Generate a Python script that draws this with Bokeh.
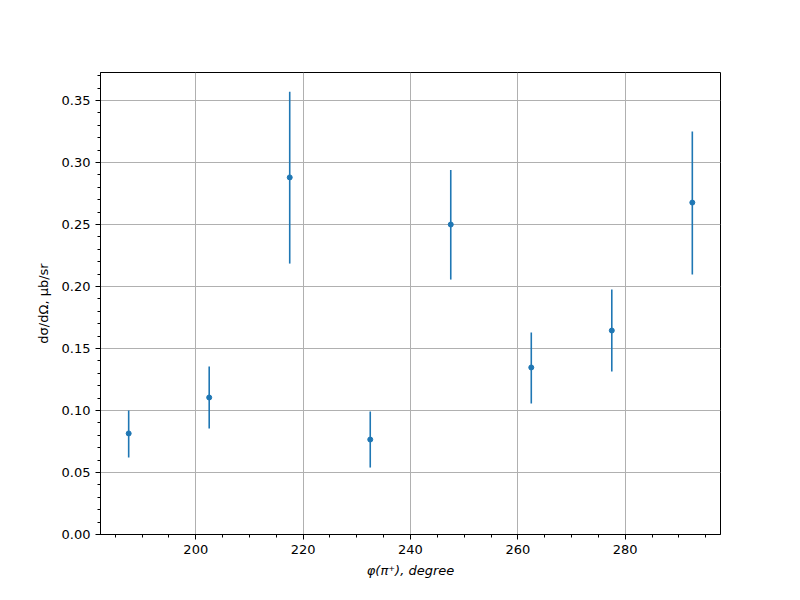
from bokeh.plotting import figure
from bokeh.models import FixedTicker, PrintfTickFormatter, Range1d, ColumnDataSource
from bokeh.embed import file_html
from bokeh.resources import INLINE

phi = [187.5, 202.5, 217.5, 232.5, 247.5, 262.5, 277.5, 292.5]
xsec = [0.0815, 0.1105, 0.288, 0.0766, 0.250, 0.1347, 0.1645, 0.2677]
err_low = [0.062, 0.0855, 0.2185, 0.054, 0.2056, 0.1056, 0.1315, 0.2097]
err_high = [0.100, 0.1355, 0.357, 0.0992, 0.294, 0.163, 0.1976, 0.325]

x_ticks = [200, 220, 240, 260, 280]
y_ticks = [0.0, 0.05, 0.10, 0.15, 0.20, 0.25, 0.30, 0.35]

src = ColumnDataSource(dict(x=phi, y=xsec, lo=err_low, hi=err_high))

p = figure(width=800, height=600, output_backend="svg", toolbar_location=None,
           x_range=Range1d(182.25, 297.75), y_range=Range1d(0, 0.3726),
           min_border_left=100, min_border_right=80, min_border_top=72, min_border_bottom=66)

p.outline_line_color = "black"
p.outline_line_width = 1
p.background_fill_color = "white"
p.border_fill_color = "white"

p.segment(x0="x", y0="lo", x1="x", y1="hi", source=src, line_color="#1f77b4", line_width=1.6)
p.scatter(x="x", y="y", source=src, size=5, fill_color="#1f77b4", line_color="#1f77b4")

p.xaxis.ticker = FixedTicker(ticks=x_ticks, minor_ticks=list(range(185, 300, 5)))
p.yaxis.ticker = FixedTicker(ticks=y_ticks, minor_ticks=[i / 100 for i in range(0, 38)])
p.yaxis.formatter = PrintfTickFormatter(format="%.2f")

for ax in (p.xaxis, p.yaxis):
    ax.major_tick_in = 0
    ax.major_tick_out = 5
    ax.minor_tick_in = 0
    ax.minor_tick_out = 3
    ax.major_label_text_font = "DejaVu Sans"
    ax.major_label_text_font_size = "13px"
    ax.major_label_text_color = "black"
    ax.axis_label_text_font = "DejaVu Sans"
    ax.axis_label_text_font_size = "13px"
    ax.axis_label_text_color = "black"
    ax.axis_line_color = "black"
    ax.major_tick_line_color = "black"
    ax.minor_tick_line_color = "black"

p.xaxis.axis_label = "φ(π⁺), degree"
p.xaxis.axis_label_text_font_style = "italic"
p.yaxis.axis_label = "dσ/dΩ, μb/sr"
p.yaxis.axis_label_text_font_style = "normal"
p.xaxis.axis_label_standoff = 6
p.yaxis.axis_label_standoff = 8

p.xgrid.ticker = FixedTicker(ticks=x_ticks)
p.ygrid.ticker = FixedTicker(ticks=y_ticks)
p.grid.grid_line_color = "#b0b0b0"
p.grid.grid_line_width = 1

open("out.html", "w").write(file_html(p, INLINE))
